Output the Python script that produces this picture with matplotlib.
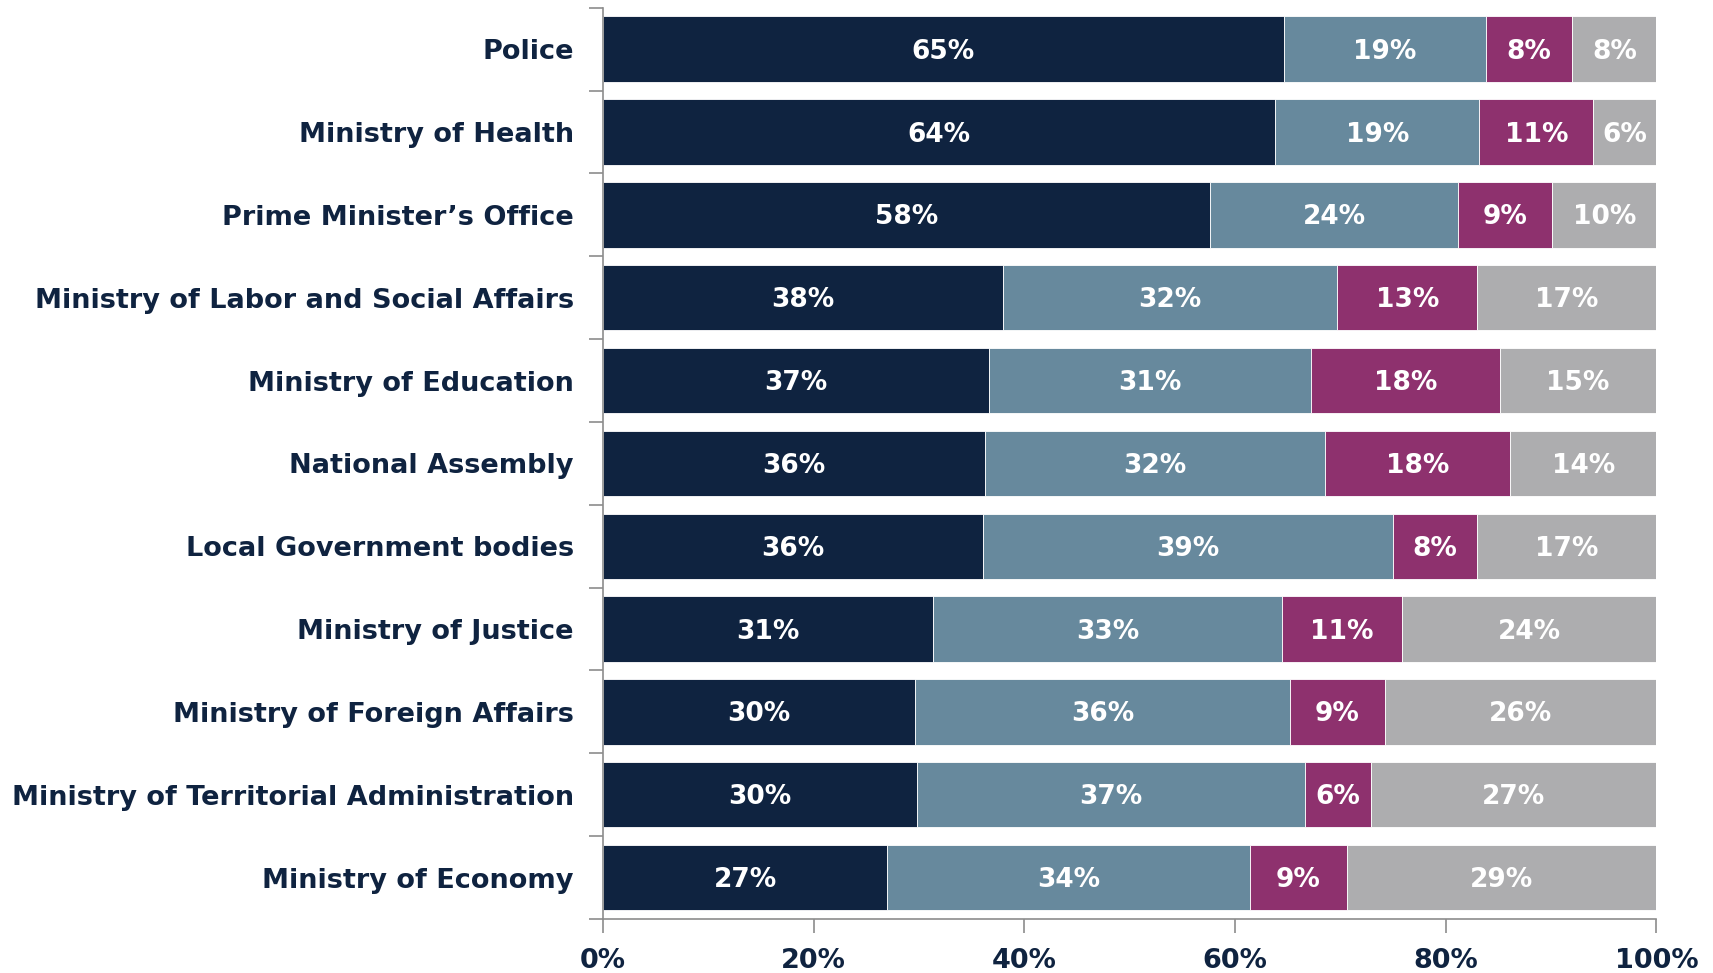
import matplotlib.pyplot as plt
import numpy as np

plt.rcParams['font.family'] = ['DejaVu Sans']

categories = ['Police', 'Ministry of Health', 'Prime Minister\u2019s Office',
              'Ministry of Labor and Social Affairs', 'Ministry of Education',
              'National Assembly', 'Local Government bodies', 'Ministry of Justice',
              'Ministry of Foreign Affairs', 'Ministry of Territorial Administration',
              'Ministry of Economy']

# shares in percent
s1 = [64.6, 63.8, 57.6, 38.0, 36.6, 36.3, 36.1, 31.3, 29.6, 29.8, 27.0]
s2 = [19.2, 19.4, 23.6, 31.7, 30.6, 32.2, 38.9, 33.2, 35.6, 36.8, 34.4]
s3 = [8.2, 10.8, 8.9, 13.3, 17.9, 17.6, 8.0, 11.3, 9.0, 6.3, 9.2]
s4 = [8.0, 6.0, 9.9, 17.0, 14.9, 13.9, 17.0, 24.2, 25.8, 27.1, 29.4]

colors = ['#0F2340', '#67899D', '#8E316E', '#ADADAF']
navy = '#0F2340'

fig = plt.figure(figsize=(17.13, 9.73), dpi=100)
ax = fig.add_axes([0.352, 0.0555, 0.615, 0.9365])

y = np.arange(len(categories))
left = np.zeros(len(categories))
for vals, c in zip([s1, s2, s3, s4], colors):
    vals = np.array(vals)
    ax.barh(y, vals, left=left, height=0.79, color=c, edgecolor='white', linewidth=0.6)
    for yi, l, v in zip(y, left, vals):
        ax.text(l + v / 2, yi + 0.03, f'{v:.0f}%', ha='center', va='center',
                color='white', fontsize=19, fontweight='bold')
    left += vals

ax.set_xlim(0, 100)
ax.set_ylim(len(categories) - 0.5, -0.5)
ax.set_xticks(np.arange(0, 101, 20))
ax.set_xticklabels([f'{t}%' for t in range(0, 101, 20)])

# category labels centred, tick marks at the boundaries
ax.set_yticks(y)
ax.set_yticklabels(categories)
ax.set_yticks(np.arange(-0.5, len(categories), 1), minor=True)
ax.tick_params(axis='y', which='major', length=0, pad=21, labelsize=19.5, labelcolor=navy)
ax.tick_params(axis='y', which='minor', length=10, color='#8C8C8C', width=1.2)
ax.tick_params(axis='x', length=10, color='#8C8C8C', width=1.2, labelsize=19.5,
               labelcolor=navy, pad=11)
for lab in ax.get_xticklabels() + ax.get_yticklabels():
    lab.set_fontweight('bold')

for side in ['top', 'right']:
    ax.spines[side].set_visible(False)
for side in ['left', 'bottom']:
    ax.spines[side].set_color('#8C8C8C')
    ax.spines[side].set_linewidth(1.2)

fig.savefig('out.png', dpi=100)
